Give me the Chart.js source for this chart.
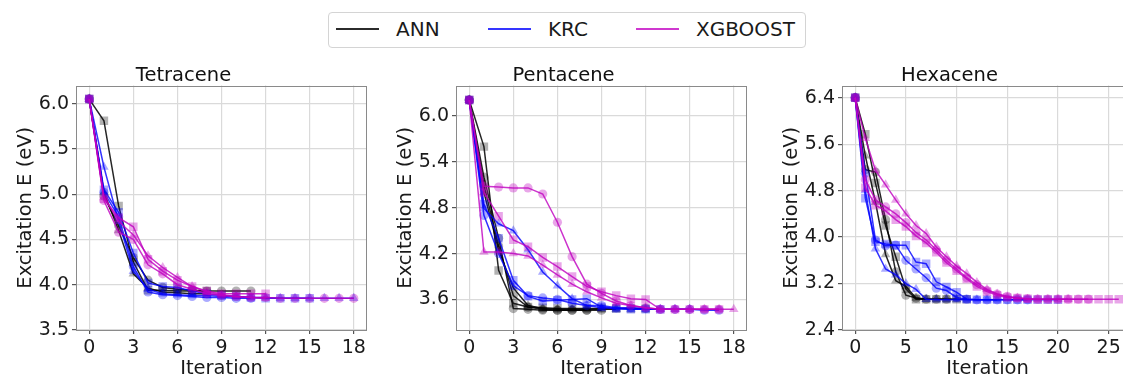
<!DOCTYPE html>
<html><head><meta charset="utf-8">
<script src="https://cdn.jsdelivr.net/npm/chart.js@4.4.1/dist/chart.umd.min.js"></script>
<style>
html,body{margin:0;padding:0;background:#fff;width:1123px;height:375px;overflow:hidden;position:relative;font-family:'DejaVu Sans',sans-serif;}
canvas.cv{position:absolute;top:63px;}
.box{position:absolute;left:328px;top:12px;width:478px;height:36px;border:1px solid #d4d4d4;border-radius:4px;box-sizing:border-box;}
.ll{position:absolute;height:2px;top:28px;width:43px;}
.lt{position:absolute;top:19px;font-size:20px;line-height:20px;color:#1a1a1a;white-space:nowrap;}
</style>
</head><body>
<div class="box"></div>
<div class="ll" style="left:336px;background:#2b2b2b"></div><div class="lt" style="left:396px">ANN</div>
<div class="ll" style="left:488px;background:#3535ff"></div><div class="lt" style="left:548px">KRC</div>
<div class="ll" style="left:636px;background:#cf38cf"></div><div class="lt" style="left:696px">XGBOOST</div>
<canvas id="c1" class="cv" width="380" height="320" style="left:0px"></canvas>
<canvas id="c2" class="cv" width="380" height="320" style="left:380px"></canvas>
<canvas id="c3" class="cv" width="380" height="320" style="left:766px"></canvas>
<script>
// ---- series labels ----
const methods = ['ANN', 'KRC', 'XGBOOST'];
const panelTitles = ['Tetracene', 'Pentacene', 'Hexacene'];

// ---- Tetracene (each inner array = one run, index = iteration) ----
const tetraANN = [
  [6.05, 5.81, 4.87, 4.25, 3.94, 3.94, 3.93, 3.93, 3.93],
  [6.05, 4.98, 4.65, 4.30, 4.05, 3.97, 3.95, 3.94, 3.93, 3.93, 3.93, 3.93],
  [6.05, 5.02, 4.60, 4.12, 3.96, 3.92, 3.91, 3.90, 3.90]
];
const tetraKRC = [
  [6.05, 5.05, 4.80, 4.35, 4.02, 3.98, 3.97, 3.93, 3.90, 3.88, 3.87, 3.86, 3.85, 3.85, 3.85, 3.85],
  [6.05, 5.02, 4.75, 4.20, 3.92, 3.89, 3.88, 3.87, 3.86, 3.86, 3.85, 3.85],
  [6.05, 5.30, 4.70, 4.15, 3.95, 3.90, 3.89, 3.88, 3.88, 3.87, 3.87, 3.86, 3.86, 3.85, 3.85, 3.85, 3.85, 3.85, 3.85]
];
const tetraXGB = [
  [6.05, 4.95, 4.74, 4.64, 4.28, 4.15, 4.05, 3.98, 3.93, 3.90, 3.90, 3.90, 3.90],
  [6.05, 4.93, 4.58, 4.50, 4.22, 4.12, 4.00, 3.95, 3.90, 3.88, 3.87, 3.86, 3.86, 3.85, 3.85, 3.85, 3.85, 3.85, 3.85],
  [6.05, 4.97, 4.70, 4.55, 4.32, 4.19, 4.08, 3.98, 3.92, 3.89, 3.87, 3.86, 3.85]
];

// ---- Pentacene ----
const pentaANN = [
  [6.21, 5.60, 3.98, 3.55, 3.50, 3.49, 3.48, 3.48, 3.48, 3.48, 3.48, 3.48, 3.48],
  [6.21, 5.20, 4.40, 3.48, 3.47, 3.46, 3.46, 3.46, 3.46, 3.46],
  [6.21, 5.00, 4.25, 3.75, 3.52, 3.48, 3.47, 3.47, 3.47, 3.47, 3.47],
  [6.21, 5.10, 4.30, 3.65, 3.50, 3.47, 3.46, 3.46, 3.46]
];
const pentaKRC = [
  [6.21, 4.85, 4.40, 3.85, 3.64, 3.58, 3.59, 3.60, 3.61, 3.50, 3.48, 3.47, 3.47, 3.47],
  [6.21, 4.70, 4.20, 3.78, 3.65, 3.62, 3.60, 3.55, 3.52, 3.52, 3.49, 3.49, 3.48, 3.47, 3.47, 3.47, 3.46, 3.46],
  [6.21, 4.79, 4.59, 4.50, 4.25, 3.96, 3.78, 3.61, 3.52, 3.49, 3.48, 3.47, 3.47, 3.47, 3.47, 3.47]
];
const pentaXGB = [
  [6.21, 5.00, 4.69, 4.38, 4.29, 4.15, 4.03, 3.90, 3.77, 3.70, 3.65, 3.61, 3.60, 3.47, 3.47, 3.47, 3.47, 3.47],
  [6.21, 5.08, 5.07, 5.06, 5.06, 4.98, 4.61, 4.16, 3.80, 3.68, 3.58, 3.52, 3.49, 3.47, 3.47, 3.47, 3.47, 3.47],
  [6.21, 4.22, 4.22, 4.20, 4.17, 4.05, 3.92, 3.80, 3.70, 3.62, 3.55, 3.52, 3.49, 3.47, 3.47, 3.47, 3.47, 3.47, 3.47]
];

// ---- Hexacene ----
const hexaANN = [
  [6.40, 5.77, 4.93, 4.20, 3.66, 3.11, 2.93, 2.93, 2.93, 2.93, 2.93, 2.93],
  [6.40, 5.16, 5.12, 4.30, 3.40, 3.00, 2.95, 2.93, 2.93, 2.93],
  [6.40, 5.40, 4.60, 3.70, 3.25, 3.15, 2.95, 2.93, 2.93, 2.93, 2.93]
];
const hexaKRC = [
  [6.40, 4.67, 3.92, 3.88, 3.86, 3.86, 3.57, 3.54, 3.23, 3.14, 3.05, 2.93, 2.92, 2.92, 2.92, 2.92, 2.92, 2.92, 2.92, 2.92, 2.92],
  [6.40, 5.10, 3.95, 3.85, 3.86, 3.60, 3.45, 3.30, 3.12, 3.08, 2.96, 2.93, 2.92, 2.92, 2.92, 2.92, 2.92, 2.92],
  [6.40, 4.80, 3.80, 3.45, 3.35, 3.20, 3.10, 2.93, 2.92, 2.92, 2.92, 2.92, 2.92, 2.92, 2.92]
];
const hexaXGB = [
  [6.40, 4.85, 4.55, 4.45, 4.30, 4.18, 4.02, 3.90, 3.74, 3.56, 3.42, 3.28, 3.15, 3.06, 3.00, 2.96, 2.95, 2.94, 2.93, 2.93, 2.93, 2.93, 2.93, 2.93, 2.93, 2.93, 2.93],
  [6.40, 4.99, 4.64, 4.52, 4.40, 4.25, 4.08, 3.95, 3.78, 3.60, 3.45, 3.30, 3.18, 3.08, 3.02, 2.98, 2.95, 2.94, 2.93, 2.93, 2.93, 2.93, 2.93, 2.93],
  [6.40, 5.70, 5.15, 4.90, 4.64, 4.40, 4.20, 4.06, 3.83, 3.66, 3.50, 3.37, 3.22, 3.10, 3.02, 2.97, 2.95, 2.93, 2.93, 2.93, 2.93, 2.93]
];

// ---- tick labels / axis ranges ----
const tetraXTicks = [0, 3, 6, 9, 12, 15, 18];
const tetraYTicks = [3.5, 4.0, 4.5, 5.0, 5.5, 6.0];
const pentaXTicks = [0, 3, 6, 9, 12, 15, 18];
const pentaYTicks = [3.6, 4.2, 4.8, 5.4, 6.0];
const hexaXTicks = [0, 5, 10, 15, 20, 25];
const hexaYTicks = [2.4, 3.2, 4.0, 4.8, 5.6, 6.4];
const tetraRange = {x: [-0.9, 18.9], y: [3.5, 6.2]};
const pentaRange = {x: [-0.9, 18.9], y: [3.2, 6.4]};
const hexaRange = {x: [-1.3, 27.4], y: [2.4, 6.61]};

const lineColors = ['rgba(0,0,0,0.85)', 'rgba(0,0,255,0.8)', 'rgba(191,0,191,0.8)'];
const fillColors = ['rgba(0,0,0,0.3)', 'rgba(0,0,255,0.33)', 'rgba(191,0,191,0.35)'];
const markerStyles = ['rect', 'circle', 'triangle', 'circle'];
const markerRadius = {rect: 6, circle: 4.6, triangle: 5.5};
const FONT = 'DejaVu Sans';

const framePlugin = {
  id: 'frame',
  afterDraw(chart) {
    const a = chart.chartArea, ctx = chart.ctx;
    ctx.save();
    ctx.strokeStyle = '#8a8a8a';
    ctx.lineWidth = 1;
    ctx.strokeRect(Math.round(a.left) + 0.5, Math.round(a.top) + 0.5, Math.round(a.right - a.left) - 1, Math.round(a.bottom - a.top) - 1);
    ctx.restore();
  }
};

function makeChart(id, title, groups, range, xTicks, yTicks) {
  const datasets = [];
  groups.forEach((runs, m) => {
    runs.forEach((run, r) => {
      const st = markerStyles[r];
      datasets.push({
        label: methods[m],
        data: run.map((v, i) => ({x: i, y: v})),
        order: 100 - (m * 10 + r),
        borderColor: lineColors[m],
        borderWidth: 1.5,
        backgroundColor: fillColors[m],
        pointBackgroundColor: fillColors[m],
        pointBorderColor: 'rgba(0,0,0,0)',
        pointBorderWidth: 0,
        pointStyle: st,
        pointRadius: markerRadius[st],
        tension: 0,
        fill: false
      });
    });
  });
  return new Chart(document.getElementById(id), {
    type: 'line',
    data: {datasets},
    plugins: [framePlugin],
    options: {
      responsive: false,
      animation: false,
      events: [],
      layout: {padding: {left: 0, right: 13, top: 0, bottom: 0}},
      plugins: {
        legend: {display: false},
        tooltip: {enabled: false},
        title: {display: true, text: title, color: '#111', font: {family: FONT, size: 19.5, weight: 'normal', lineHeight: 1.0}, padding: {top: 3, bottom: 0}}
      },
      scales: {
        x: {
          type: 'linear', min: range.x[0], max: range.x[1],
          afterBuildTicks: s => { s.ticks = xTicks.map(v => ({value: v})); },
          afterFit: s => { s.height = 53; },
          grid: {color: '#dadada', lineWidth: 1.2, tickColor: '#555', tickLength: 4, drawTicks: true},
          border: {display: false},
          ticks: {font: {family: FONT, size: 19}, color: '#1a1a1a', padding: 3, autoSkip: false, maxRotation: 0, callback: v => String(v)},
          title: {display: true, text: 'Iteration', color: '#1a1a1a', font: {family: FONT, size: 19.5}, padding: {top: 0, bottom: 2}}
        },
        y: {
          type: 'linear', min: range.y[0], max: range.y[1],
          afterBuildTicks: s => { s.ticks = yTicks.map(v => ({value: v})); },
          afterFit: s => { s.width = 76; },
          grid: {color: '#dadada', lineWidth: 1.2, tickColor: '#555', tickLength: 4, drawTicks: true},
          border: {display: false},
          ticks: {font: {family: FONT, size: 19}, color: '#1a1a1a', padding: 3, autoSkip: false, callback: v => Number(v).toFixed(1)},
          title: {display: true, text: 'Excitation E (eV)', color: '#1a1a1a', font: {family: FONT, size: 19.5}, padding: {top: 14, bottom: 0}}
        }
      }
    }
  });
}

makeChart('c1', panelTitles[0], [tetraANN, tetraKRC, tetraXGB], tetraRange, tetraXTicks, tetraYTicks);
makeChart('c2', panelTitles[1], [pentaANN, pentaKRC, pentaXGB], pentaRange, pentaXTicks, pentaYTicks);
makeChart('c3', panelTitles[2], [hexaANN, hexaKRC, hexaXGB], hexaRange, hexaXTicks, hexaYTicks);
</script>
</body></html>
